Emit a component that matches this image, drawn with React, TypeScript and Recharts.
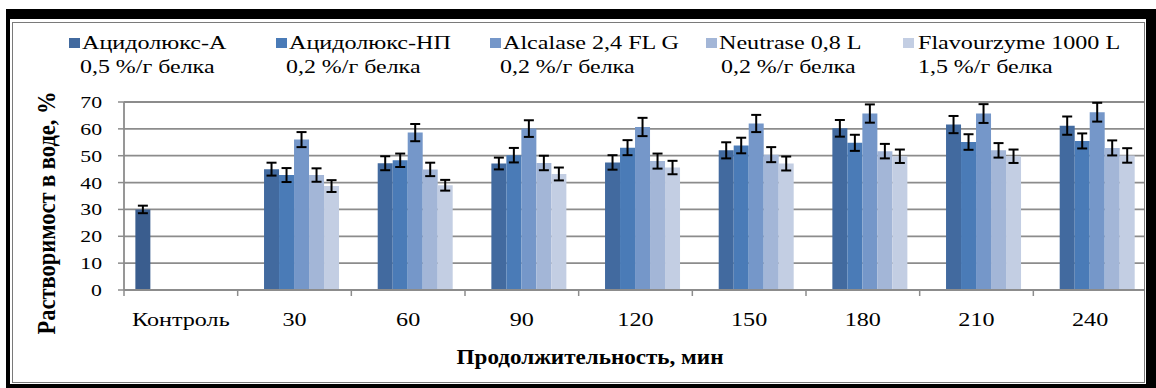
import React from 'react';
import { BarChart, Bar, XAxis, YAxis, CartesianGrid, Legend, ErrorBar } from 'recharts';

// ---------- data ----------
const categories = ['Контроль', '30', '60', '90', '120', '150', '180', '210', '240'];
const controlValue = 30;
const controlError = 1.4;

const acidA = [45, 47.2, 47.1, 47.5, 52, 60.2, 61.6, 61.2];
const acidNP = [42.8, 48.3, 50.2, 53, 53.8, 54.8, 55.1, 55.5];
const alcalase = [56, 58.6, 60.1, 60.7, 62, 65.7, 65.7, 66.2];
const neutrase = [42.8, 44.9, 47.3, 48, 50.4, 51.7, 52, 52.9];
const flavourzyme = [38.7, 39, 43.2, 45.6, 47.1, 49.8, 49.8, 50.1];

const acidAErr = [2.4, 2.6, 2.2, 2.7, 3.0, 3.1, 3.2, 3.4];
const acidNPErr = [2.6, 2.5, 2.7, 2.8, 2.9, 3.0, 2.9, 2.8];
const alcalaseErr = [2.8, 3.2, 3.1, 3.4, 3.2, 3.4, 3.5, 3.5];
const neutraseErr = [2.5, 2.5, 2.7, 2.8, 2.8, 2.7, 2.7, 2.8];
const flavourzymeErr = [2.2, 2.0, 2.4, 2.5, 2.6, 2.5, 2.5, 2.7];

const seriesNames = ['Ацидолюкс-А', 'Ацидолюкс-НП', 'Alcalase 2,4 FL G', 'Neutrase 0,8 L', 'Flavourzyme 1000 L'];
const seriesDoses = ['0,5 %/г белка', '0,2 %/г белка', '0,2 %/г белка', '0,2 %/г белка', '1,5 %/г белка'];
const yTicks = [0, 10, 20, 30, 40, 50, 60, 70];
const yAxisTitle = 'Растворимост в воде, %';
const xAxisTitle = 'Продолжительность, мин';

const seriesValues = [acidA, acidNP, alcalase, neutrase, flavourzyme];
const seriesErrors = [acidAErr, acidNPErr, alcalaseErr, neutraseErr, flavourzymeErr];

// ---------- styles ----------
const FONT = 'Liberation Serif, Tinos, DejaVu Serif, serif';
const controlColor = '#3a5d8e';
const seriesColors = ['#426a9f', '#4a7bb7', '#7597c9', '#a3b6d7', '#c3cee3'];
const gridColor = '#8c8c8c';

const W = 1156;
const H = 388;
const M = { top: 102, right: 9, left: 64, bottom: 68 };
const Y_AXIS_W = 60;
const X_AXIS_H = 30;
const plotLeft = M.left + Y_AXIS_W;
const plotRight = W - M.right;
const bandW = (plotRight - plotLeft) / categories.length;

const legendSquareX = [69, 276, 490, 706, 903];
const legendTextX = [82, 289, 503, 719, 918];
const legendDoseX = [80, 286, 500, 721, 918];

const rows = categories.map((c, i) => {
  const row: Record<string, any> = { cat: c };
  if (i === 0) {
    row.ctrl = controlValue;
    row.ctrlErr = controlError;
  } else {
    seriesValues.forEach((arr, s) => {
      row['s' + s] = arr[i - 1];
      row['e' + s] = seriesErrors[s][i - 1];
    });
  }
  return row;
});

const txt = { fontFamily: FONT, fill: '#000' } as React.CSSProperties;

const YTick = (props: any) => {
  const { x, y, payload } = props;
  return (
    <text
      transform={`translate(${x},${y + 6}) scale(1.28,1)`}
      textAnchor="end"
      style={{ ...txt, fontSize: 17 }}
    >
      {payload.value}
    </text>
  );
};

const XTick = (props: any) => {
  const { x, y, payload, index } = props;
  const left = x - bandW / 2;
  return (
    <g>
      <line x1={left} y1={y} x2={left} y2={y + 6} stroke={gridColor} strokeWidth={1.5} />
      {index === categories.length - 1 && (
        <line x1={x + bandW / 2} y1={y} x2={x + bandW / 2} y2={y + 6} stroke={gridColor} strokeWidth={1.5} />
      )}
      <text
        transform={`translate(${x},${y + 36}) scale(1.24,1)`}
        textAnchor="middle"
        style={{ ...txt, fontSize: 19.5 }}
      >
        {payload.value}
      </text>
    </g>
  );
};

const LegendContent = () => (
  <svg width={W} height={80} style={{ display: 'block' }}>
    {seriesNames.map((name, i) => (
      <g key={name}>
        <rect x={legendSquareX[i]} y={38} width={11} height={10} fill={seriesColors[i]} />
        <text transform={`translate(${legendTextX[i]},49) scale(1.34,1)`} style={{ ...txt, fontSize: 18 }}>
          {name}
        </text>
        <text transform={`translate(${legendDoseX[i]},73) scale(1.33,1)`} style={{ ...txt, fontSize: 18 }}>
          {seriesDoses[i]}
        </text>
      </g>
    ))}
  </svg>
);

const Frame = () => (
  <svg width={W} height={H} style={{ position: 'absolute', left: 0, top: 0, pointerEvents: 'none' }}>
    <path d={`M6,9 H${W} V${H} H6 Z M10,19 V384 H1146 V19 Z`} fill="#000" fillRule="evenodd" />
    <rect x={1145} y={19} width={1} height={365} fill="#fff" />
    <rect x={12.5} y={22.5} width={1132} height={360} fill="none" stroke="#7a7a7a" strokeWidth={1} />
  </svg>
);

export default function App() {
  return (
    <div style={{ position: 'absolute', left: 0, top: 0, width: W, height: H, background: '#fff', fontFamily: FONT }}>
      <BarChart width={W} height={H} data={rows} margin={M} barCategoryGap="10%" barGap={0}>
        <CartesianGrid vertical={false} stroke={gridColor} strokeWidth={1.8} />
        <XAxis
          dataKey="cat"
          height={X_AXIS_H}
          interval={0}
          tickSize={0}
          tickMargin={0}
          tickLine={false}
          axisLine={{ stroke: gridColor, strokeWidth: 1.8 }}
          tick={<XTick />}
          label={{
            content: () => (
              <text
                transform={`translate(590,364) scale(1.1,1)`}
                textAnchor="middle"
                style={{ ...txt, fontSize: 21, fontWeight: 'bold' }}
              >
                {xAxisTitle}
              </text>
            ),
          }}
        />
        <YAxis
          width={Y_AXIS_W}
          domain={[0, 70]}
          ticks={yTicks}
          interval={0}
          tickSize={6}
          tickMargin={16}
          tickLine={{ stroke: gridColor, strokeWidth: 1.5 }}
          axisLine={{ stroke: gridColor, strokeWidth: 1.8 }}
          tick={<YTick />}
          label={{
            content: () => (
              <text
                transform={`translate(55,213) rotate(-90) scale(1,1.1)`}
                textAnchor="middle"
                style={{ ...txt, fontSize: 22.5, fontWeight: 'bold' }}
              >
                {yAxisTitle}
              </text>
            ),
          }}
        />
        <Legend
          layout="horizontal"
          verticalAlign="middle"
          align="center"
          wrapperStyle={{ top: 0, left: 0, width: W, height: 80 }}
          content={<LegendContent />}
        />
        <Bar dataKey="ctrl" fill={controlColor} legendType="none" isAnimationActive={false}>
          <ErrorBar dataKey="ctrlErr" width={5} strokeWidth={2} stroke="#000" direction="y" />
        </Bar>
        {seriesNames.map((name, s) => (
          <Bar key={name} dataKey={'s' + s} name={name} fill={seriesColors[s]} isAnimationActive={false}>
            <ErrorBar dataKey={'e' + s} width={5} strokeWidth={2} stroke="#000" direction="y" />
          </Bar>
        ))}
      </BarChart>
      <Frame />
    </div>
  );
}
